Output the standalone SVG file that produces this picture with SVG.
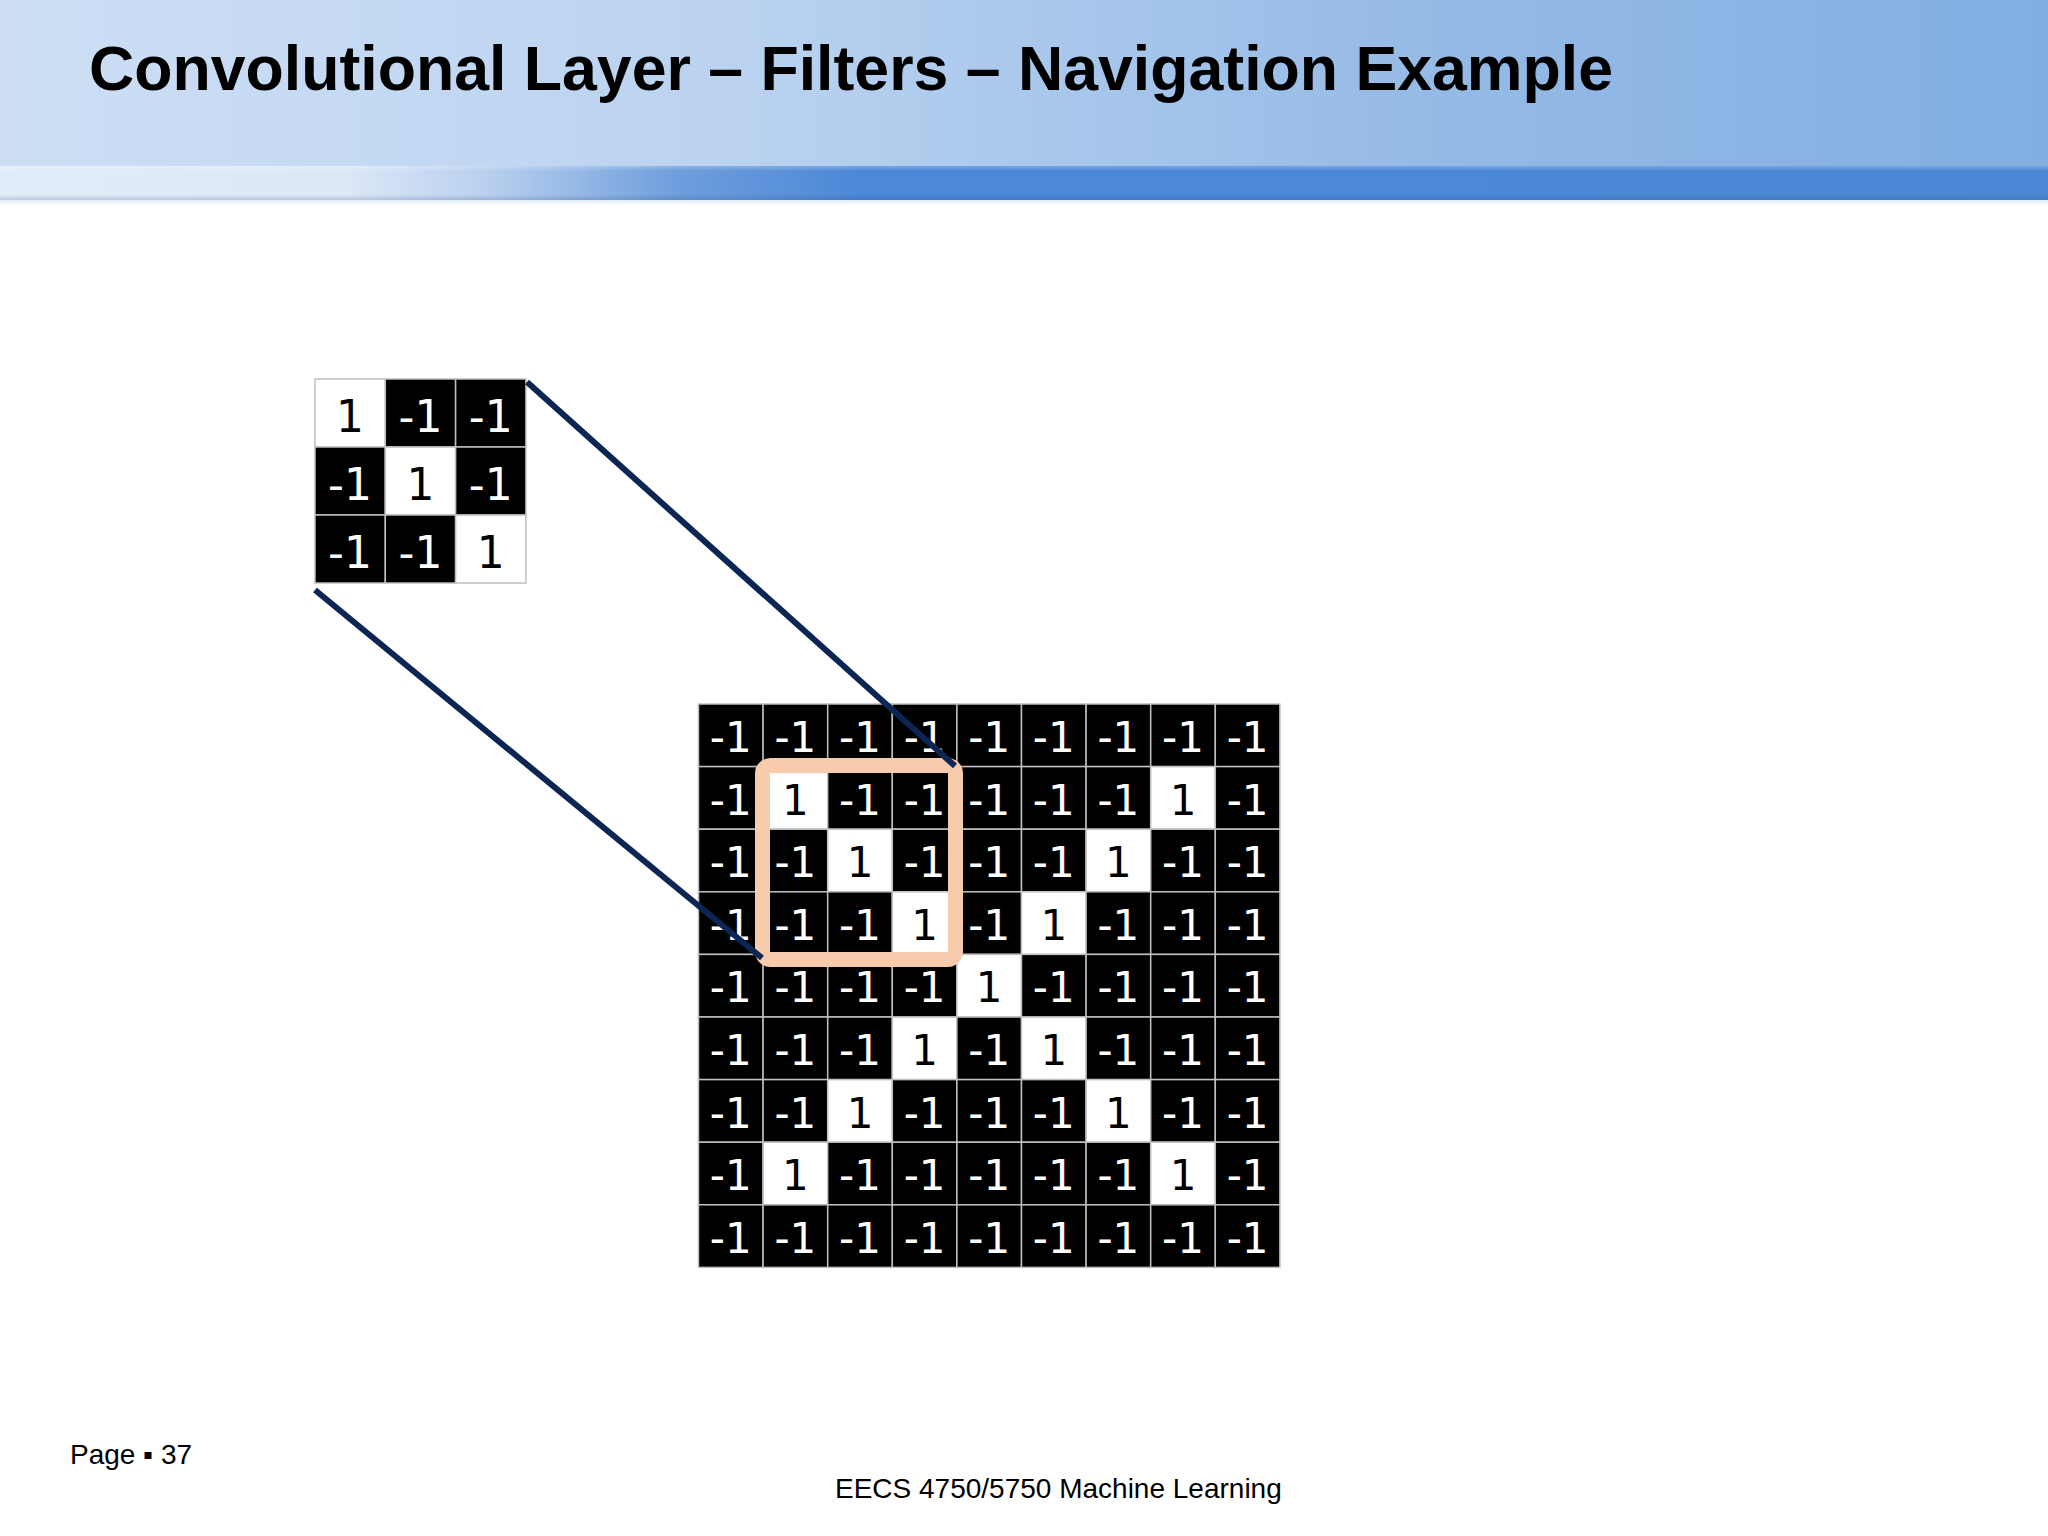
<svg xmlns="http://www.w3.org/2000/svg" width="2048" height="1536" viewBox="0 0 2048 1536">
<defs>
<linearGradient id="hdr" x1="0" y1="0" x2="1" y2="0">
<stop offset="0" stop-color="#CEDFF5"/>
<stop offset="0.35" stop-color="#BBD3F0"/>
<stop offset="0.7" stop-color="#95BAE6"/>
<stop offset="1" stop-color="#82AEE2"/>
</linearGradient>
<linearGradient id="band" x1="0" y1="0" x2="2048" y2="0" gradientUnits="userSpaceOnUse">
<stop offset="0" stop-color="#E2ECF9"/>
<stop offset="0.17" stop-color="#DCE7F7"/>
<stop offset="0.24" stop-color="#B7CFEE"/>
<stop offset="0.33" stop-color="#6E9EDC"/>
<stop offset="0.42" stop-color="#4C88D8"/>
<stop offset="1" stop-color="#4A88D6"/>
</linearGradient>
<linearGradient id="bandv" x1="0" y1="0" x2="0" y2="1">
<stop offset="0" stop-color="#FFFFFF" stop-opacity="0.25"/>
<stop offset="0.15" stop-color="#FFFFFF" stop-opacity="0"/>
<stop offset="0.85" stop-color="#000000" stop-opacity="0"/>
<stop offset="1" stop-color="#3050A0" stop-opacity="0.2"/>
</linearGradient>
<linearGradient id="fade" x1="0" y1="0" x2="0" y2="1">
<stop offset="0" stop-color="#E4EEF8"/>
<stop offset="1" stop-color="#FFFFFF"/>
</linearGradient>
<style>
.b{fill:#000000;stroke:#BFBFBF;stroke-width:1.5}
.w{fill:#FFFFFF;stroke:#BFBFBF;stroke-width:1.5}
.tb{font-family:"DejaVu Sans",sans-serif;font-size:42px;fill:#FFFFFF;text-anchor:middle}
.tw{font-family:"DejaVu Sans",sans-serif;font-size:42px;fill:#000000;text-anchor:middle}
.s .tb,.s .tw{font-size:44px}
.conn{stroke:#0C2654;stroke-width:6;fill:none}
.foot{font-family:"Liberation Sans",Arial,sans-serif;font-size:28px;fill:#000000}
</style>
</defs>
<rect width="2048" height="1536" fill="#FFFFFF"/>
<g id="header">
<rect x="0" y="0" width="2048" height="166" fill="url(#hdr)"/>
<rect x="0" y="166" width="2048" height="34" fill="url(#band)"/>
<rect x="0" y="166" width="2048" height="34" fill="url(#bandv)"/>
<rect x="0" y="200" width="2048" height="6" fill="url(#fade)"/>
<text x="89" y="90" font-family="Liberation Sans, Arial, sans-serif" font-weight="bold" font-size="63" textLength="1524" lengthAdjust="spacingAndGlyphs" fill="#000000">Convolutional Layer – Filters – Navigation Example</text>
</g>
<g id="filter" class="s">
<rect class="w" x="315" y="379" width="70.3" height="68"/>
<rect class="b" x="385.3" y="379" width="70.3" height="68"/>
<rect class="b" x="455.6" y="379" width="70.3" height="68"/>
<rect class="b" x="315" y="447" width="70.3" height="68"/>
<rect class="w" x="385.3" y="447" width="70.3" height="68"/>
<rect class="b" x="455.6" y="447" width="70.3" height="68"/>
<rect class="b" x="315" y="515" width="70.3" height="68"/>
<rect class="b" x="385.3" y="515" width="70.3" height="68"/>
<rect class="w" x="455.6" y="515" width="70.3" height="68"/>
<text class="tw" x="350" y="432">1</text>
<text class="tb" x="420.5" y="432">-1</text>
<text class="tb" x="490.8" y="432">-1</text>
<text class="tb" x="350" y="500">-1</text>
<text class="tw" x="420.5" y="500">1</text>
<text class="tb" x="490.8" y="500">-1</text>
<text class="tb" x="350" y="568">-1</text>
<text class="tb" x="420.5" y="568">-1</text>
<text class="tw" x="490.8" y="568">1</text>
</g>
<g id="image">
<rect class="b" x="698.5" y="704" width="64.6" height="62.6"/><rect class="b" x="763.1" y="704" width="64.6" height="62.6"/><rect class="b" x="827.7" y="704" width="64.6" height="62.6"/><rect class="b" x="892.3" y="704" width="64.6" height="62.6"/><rect class="b" x="956.9" y="704" width="64.6" height="62.6"/><rect class="b" x="1021.5" y="704" width="64.6" height="62.6"/><rect class="b" x="1086.1" y="704" width="64.6" height="62.6"/><rect class="b" x="1150.7" y="704" width="64.6" height="62.6"/><rect class="b" x="1215.3" y="704" width="64.6" height="62.6"/>
<rect class="b" x="698.5" y="766.6" width="64.6" height="62.6"/><rect class="w" x="763.1" y="766.6" width="64.6" height="62.6"/><rect class="b" x="827.7" y="766.6" width="64.6" height="62.6"/><rect class="b" x="892.3" y="766.6" width="64.6" height="62.6"/><rect class="b" x="956.9" y="766.6" width="64.6" height="62.6"/><rect class="b" x="1021.5" y="766.6" width="64.6" height="62.6"/><rect class="b" x="1086.1" y="766.6" width="64.6" height="62.6"/><rect class="w" x="1150.7" y="766.6" width="64.6" height="62.6"/><rect class="b" x="1215.3" y="766.6" width="64.6" height="62.6"/>
<rect class="b" x="698.5" y="829.2" width="64.6" height="62.6"/><rect class="b" x="763.1" y="829.2" width="64.6" height="62.6"/><rect class="w" x="827.7" y="829.2" width="64.6" height="62.6"/><rect class="b" x="892.3" y="829.2" width="64.6" height="62.6"/><rect class="b" x="956.9" y="829.2" width="64.6" height="62.6"/><rect class="b" x="1021.5" y="829.2" width="64.6" height="62.6"/><rect class="w" x="1086.1" y="829.2" width="64.6" height="62.6"/><rect class="b" x="1150.7" y="829.2" width="64.6" height="62.6"/><rect class="b" x="1215.3" y="829.2" width="64.6" height="62.6"/>
<rect class="b" x="698.5" y="891.8" width="64.6" height="62.6"/><rect class="b" x="763.1" y="891.8" width="64.6" height="62.6"/><rect class="b" x="827.7" y="891.8" width="64.6" height="62.6"/><rect class="w" x="892.3" y="891.8" width="64.6" height="62.6"/><rect class="b" x="956.9" y="891.8" width="64.6" height="62.6"/><rect class="w" x="1021.5" y="891.8" width="64.6" height="62.6"/><rect class="b" x="1086.1" y="891.8" width="64.6" height="62.6"/><rect class="b" x="1150.7" y="891.8" width="64.6" height="62.6"/><rect class="b" x="1215.3" y="891.8" width="64.6" height="62.6"/>
<rect class="b" x="698.5" y="954.4" width="64.6" height="62.6"/><rect class="b" x="763.1" y="954.4" width="64.6" height="62.6"/><rect class="b" x="827.7" y="954.4" width="64.6" height="62.6"/><rect class="b" x="892.3" y="954.4" width="64.6" height="62.6"/><rect class="w" x="956.9" y="954.4" width="64.6" height="62.6"/><rect class="b" x="1021.5" y="954.4" width="64.6" height="62.6"/><rect class="b" x="1086.1" y="954.4" width="64.6" height="62.6"/><rect class="b" x="1150.7" y="954.4" width="64.6" height="62.6"/><rect class="b" x="1215.3" y="954.4" width="64.6" height="62.6"/>
<rect class="b" x="698.5" y="1017" width="64.6" height="62.6"/><rect class="b" x="763.1" y="1017" width="64.6" height="62.6"/><rect class="b" x="827.7" y="1017" width="64.6" height="62.6"/><rect class="w" x="892.3" y="1017" width="64.6" height="62.6"/><rect class="b" x="956.9" y="1017" width="64.6" height="62.6"/><rect class="w" x="1021.5" y="1017" width="64.6" height="62.6"/><rect class="b" x="1086.1" y="1017" width="64.6" height="62.6"/><rect class="b" x="1150.7" y="1017" width="64.6" height="62.6"/><rect class="b" x="1215.3" y="1017" width="64.6" height="62.6"/>
<rect class="b" x="698.5" y="1079.6" width="64.6" height="62.6"/><rect class="b" x="763.1" y="1079.6" width="64.6" height="62.6"/><rect class="w" x="827.7" y="1079.6" width="64.6" height="62.6"/><rect class="b" x="892.3" y="1079.6" width="64.6" height="62.6"/><rect class="b" x="956.9" y="1079.6" width="64.6" height="62.6"/><rect class="b" x="1021.5" y="1079.6" width="64.6" height="62.6"/><rect class="w" x="1086.1" y="1079.6" width="64.6" height="62.6"/><rect class="b" x="1150.7" y="1079.6" width="64.6" height="62.6"/><rect class="b" x="1215.3" y="1079.6" width="64.6" height="62.6"/>
<rect class="b" x="698.5" y="1142.2" width="64.6" height="62.6"/><rect class="w" x="763.1" y="1142.2" width="64.6" height="62.6"/><rect class="b" x="827.7" y="1142.2" width="64.6" height="62.6"/><rect class="b" x="892.3" y="1142.2" width="64.6" height="62.6"/><rect class="b" x="956.9" y="1142.2" width="64.6" height="62.6"/><rect class="b" x="1021.5" y="1142.2" width="64.6" height="62.6"/><rect class="b" x="1086.1" y="1142.2" width="64.6" height="62.6"/><rect class="w" x="1150.7" y="1142.2" width="64.6" height="62.6"/><rect class="b" x="1215.3" y="1142.2" width="64.6" height="62.6"/>
<rect class="b" x="698.5" y="1204.8" width="64.6" height="62.6"/><rect class="b" x="763.1" y="1204.8" width="64.6" height="62.6"/><rect class="b" x="827.7" y="1204.8" width="64.6" height="62.6"/><rect class="b" x="892.3" y="1204.8" width="64.6" height="62.6"/><rect class="b" x="956.9" y="1204.8" width="64.6" height="62.6"/><rect class="b" x="1021.5" y="1204.8" width="64.6" height="62.6"/><rect class="b" x="1086.1" y="1204.8" width="64.6" height="62.6"/><rect class="b" x="1150.7" y="1204.8" width="64.6" height="62.6"/><rect class="b" x="1215.3" y="1204.8" width="64.6" height="62.6"/>
<g>
<text class="tb" x="730.8" y="752">-1</text><text class="tb" x="795.4" y="752">-1</text><text class="tb" x="860" y="752">-1</text><text class="tb" x="924.6" y="752">-1</text><text class="tb" x="989.2" y="752">-1</text><text class="tb" x="1053.8" y="752">-1</text><text class="tb" x="1118.4" y="752">-1</text><text class="tb" x="1183" y="752">-1</text><text class="tb" x="1247.6" y="752">-1</text>
<text class="tb" x="730.8" y="814.6">-1</text><text class="tw" x="795.4" y="814.6">1</text><text class="tb" x="860" y="814.6">-1</text><text class="tb" x="924.6" y="814.6">-1</text><text class="tb" x="989.2" y="814.6">-1</text><text class="tb" x="1053.8" y="814.6">-1</text><text class="tb" x="1118.4" y="814.6">-1</text><text class="tw" x="1183" y="814.6">1</text><text class="tb" x="1247.6" y="814.6">-1</text>
<text class="tb" x="730.8" y="877.2">-1</text><text class="tb" x="795.4" y="877.2">-1</text><text class="tw" x="860" y="877.2">1</text><text class="tb" x="924.6" y="877.2">-1</text><text class="tb" x="989.2" y="877.2">-1</text><text class="tb" x="1053.8" y="877.2">-1</text><text class="tw" x="1118.4" y="877.2">1</text><text class="tb" x="1183" y="877.2">-1</text><text class="tb" x="1247.6" y="877.2">-1</text>
<text class="tb" x="730.8" y="939.8">-1</text><text class="tb" x="795.4" y="939.8">-1</text><text class="tb" x="860" y="939.8">-1</text><text class="tw" x="924.6" y="939.8">1</text><text class="tb" x="989.2" y="939.8">-1</text><text class="tw" x="1053.8" y="939.8">1</text><text class="tb" x="1118.4" y="939.8">-1</text><text class="tb" x="1183" y="939.8">-1</text><text class="tb" x="1247.6" y="939.8">-1</text>
<text class="tb" x="730.8" y="1002.4">-1</text><text class="tb" x="795.4" y="1002.4">-1</text><text class="tb" x="860" y="1002.4">-1</text><text class="tb" x="924.6" y="1002.4">-1</text><text class="tw" x="989.2" y="1002.4">1</text><text class="tb" x="1053.8" y="1002.4">-1</text><text class="tb" x="1118.4" y="1002.4">-1</text><text class="tb" x="1183" y="1002.4">-1</text><text class="tb" x="1247.6" y="1002.4">-1</text>
<text class="tb" x="730.8" y="1065">-1</text><text class="tb" x="795.4" y="1065">-1</text><text class="tb" x="860" y="1065">-1</text><text class="tw" x="924.6" y="1065">1</text><text class="tb" x="989.2" y="1065">-1</text><text class="tw" x="1053.8" y="1065">1</text><text class="tb" x="1118.4" y="1065">-1</text><text class="tb" x="1183" y="1065">-1</text><text class="tb" x="1247.6" y="1065">-1</text>
<text class="tb" x="730.8" y="1127.6">-1</text><text class="tb" x="795.4" y="1127.6">-1</text><text class="tw" x="860" y="1127.6">1</text><text class="tb" x="924.6" y="1127.6">-1</text><text class="tb" x="989.2" y="1127.6">-1</text><text class="tb" x="1053.8" y="1127.6">-1</text><text class="tw" x="1118.4" y="1127.6">1</text><text class="tb" x="1183" y="1127.6">-1</text><text class="tb" x="1247.6" y="1127.6">-1</text>
<text class="tb" x="730.8" y="1190.2">-1</text><text class="tw" x="795.4" y="1190.2">1</text><text class="tb" x="860" y="1190.2">-1</text><text class="tb" x="924.6" y="1190.2">-1</text><text class="tb" x="989.2" y="1190.2">-1</text><text class="tb" x="1053.8" y="1190.2">-1</text><text class="tb" x="1118.4" y="1190.2">-1</text><text class="tw" x="1183" y="1190.2">1</text><text class="tb" x="1247.6" y="1190.2">-1</text>
<text class="tb" x="730.8" y="1252.8">-1</text><text class="tb" x="795.4" y="1252.8">-1</text><text class="tb" x="860" y="1252.8">-1</text><text class="tb" x="924.6" y="1252.8">-1</text><text class="tb" x="989.2" y="1252.8">-1</text><text class="tb" x="1053.8" y="1252.8">-1</text><text class="tb" x="1118.4" y="1252.8">-1</text><text class="tb" x="1183" y="1252.8">-1</text><text class="tb" x="1247.6" y="1252.8">-1</text>
</g>
</g>
<g id="window">
<rect x="762.5" y="765.5" width="193" height="194" rx="8" fill="none" stroke="#F8CBAD" stroke-width="15"/>
</g>
<g id="connectors">
<line class="conn" x1="527" y1="382" x2="955" y2="766"/>
<line class="conn" x1="315" y1="590" x2="762" y2="958"/>
</g>
<g id="footer">
<text class="foot" x="70" y="1464">Page ▪ 37</text>
<text class="foot" x="835" y="1498">EECS 4750/5750 Machine Learning</text>
</g>
</svg>
